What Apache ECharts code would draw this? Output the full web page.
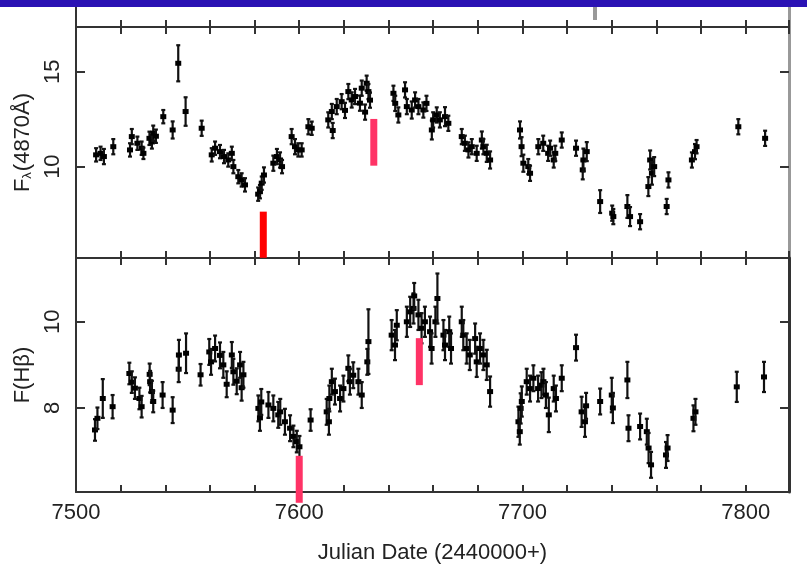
<!DOCTYPE html>
<html>
<head>
<meta charset="utf-8">
<script src="https://cdn.jsdelivr.net/npm/echarts@6/dist/echarts.min.js"></script>
<style>
  html, body { margin: 0; padding: 0; background: #fff; }
  #chart { width: 807px; height: 573px; }
</style>
</head>
<body>
<div id="chart"></div>
<script>
// continuum flux F_lambda(4870A), top panel
var topDates = [7509, 7511, 7512.5, 7516.7, 7524.2, 7525, 7527.5, 7529.4, 7530.2, 7532.9, 7534, 7534.6, 7535.8,
  7539.1, 7543.3, 7545.8, 7549.1, 7556.3, 7560.8, 7562.3, 7564.5, 7566.3, 7568.2, 7569.8, 7570.5, 7572.7, 7574.2,
  7575.7, 7581.6, 7582.4, 7583.2, 7584.2, 7588.4, 7590, 7591.4, 7592.3, 7596.6, 7598.1, 7599.6, 7601.1, 7604.1,
  7605.6, 7613, 7614.6, 7615, 7616.8, 7619, 7620.5, 7622, 7623.5, 7625, 7627.2, 7628, 7629.5, 7630.2, 7631, 7631.7,
  7642.2, 7643, 7644.4, 7647.4, 7648.2, 7650.4, 7651.9, 7653.4, 7655.6, 7657, 7659.4, 7660, 7661.6, 7663, 7665.3,
  7666.8, 7672.8, 7674.2, 7675.8, 7677.3, 7679.5, 7681.8, 7682.5, 7684, 7685.5, 7698.9, 7699.6, 7700.4, 7702.6,
  7703.4, 7707.1, 7709.3, 7711.5, 7712.4, 7714, 7714.7, 7717.6, 7724, 7727, 7727.3, 7728.8, 7734.8, 7740.2, 7740.7,
  7747, 7748.2, 7752.7, 7756.4, 7757.2, 7758, 7759, 7764.6, 7765.4, 7775.9, 7777.3, 7778, 7796.7, 7808.7];
var topFlux = [10.62, 10.70, 10.53, 11.05, 10.88, 11.58, 11.23, 10.97, 10.70, 11.49, 11.3, 11.76, 11.6,
  12.63, 11.93, 15.44, 12.9, 12.02, 10.62, 10.97, 10.79, 10.53, 10.35, 10.7, 10.0, 9.47, 9.3,
  9.04, 8.55, 8.68, 9.13, 9.56, 10.18, 10.53, 10.35, 10.0, 11.58, 11.05, 10.88, 10.88, 12.1,
  12.02, 12.46, 12.9, 11.9, 13.16, 13.42, 12.96, 13.95, 13.51, 13.69, 13.34, 14.13, 12.87, 14.39, 13.95, 13.5,
  13.86, 13.33, 12.72, 14.04, 13.16, 12.98, 13.51, 13.16, 12.98, 13.33, 11.93, 12.46, 12.72, 12.46, 12.63,
  12.28, 11.58, 11.23, 10.88, 11.05, 10.7, 11.4, 11.05, 10.7, 10.35, 11.93, 11.05, 10.18, 10.0,
  9.65, 11.05, 11.23, 10.7, 10.97, 10.35, 10.7, 11.4, 10.97, 9.83, 10.35, 10.79, 8.16, 7.55, 7.37,
  7.9, 7.37, 7.1, 8.95, 10.35, 9.65, 10.0, 7.9, 9.3, 10.35, 10.79, 11.05, 12.1, 11.49];
var topErr = [0.35, 0.35, 0.4, 0.4, 0.35, 0.4, 0.35, 0.35, 0.3, 0.35, 0.35, 0.4, 0.35,
  0.35, 0.45, 0.95, 0.75, 0.4, 0.35, 0.35, 0.35, 0.35, 0.35, 0.35, 0.35, 0.35, 0.35,
  0.35, 0.35, 0.35, 0.35, 0.4, 0.4, 0.4, 0.4, 0.35, 0.4, 0.4, 0.35, 0.35, 0.4,
  0.35, 0.4, 0.4, 0.4, 0.4, 0.4, 0.4, 0.4, 0.4, 0.4, 0.4, 0.4, 0.4, 0.4, 0.4, 0.4,
  0.4, 0.4, 0.4, 0.4, 0.4, 0.45, 0.4, 0.4, 0.4, 0.4, 0.5, 0.4, 0.4, 0.4, 0.5,
  0.4, 0.4, 0.4, 0.4, 0.4, 0.4, 0.45, 0.4, 0.45, 0.45, 0.45, 0.5, 0.45, 0.4,
  0.4, 0.4, 0.4, 0.4, 0.4, 0.4, 0.4, 0.4, 0.4, 0.5, 0.6, 0.5, 0.6, 0.4, 0.4,
  0.6, 0.5, 0.4, 0.5, 0.5, 0.6, 0.5, 0.4, 0.4, 0.4, 0.4, 0.35, 0.4, 0.4];

// line flux F(H-beta), bottom panel
var botDates = [7508.5, 7509.6, 7512, 7516.4, 7523.9, 7525, 7526.4, 7528.4, 7529.4, 7533, 7533.2, 7534, 7534.6,
  7538.8, 7543.3, 7546, 7546.1, 7549.3, 7555.8, 7559.7, 7560.5, 7562.3, 7564.5, 7566, 7567.5, 7569.8, 7570.5,
  7572, 7573.5, 7574.2, 7575, 7581.7, 7582.4, 7583, 7586.2, 7588.4, 7590.6, 7591.5, 7593.6, 7595.9, 7597.4,
  7598.9, 7600.1, 7605.1, 7612.3, 7613.3, 7613.5, 7614.6, 7616, 7618.3, 7619.8, 7622, 7622.7, 7624.2, 7626.5,
  7628, 7630.5, 7631, 7641.4, 7642.9, 7643.7, 7648.2, 7649.7, 7651.2, 7651.5, 7653.4, 7654.8, 7656.3, 7658.6,
  7659.3, 7661, 7661.9, 7664.6, 7665.3, 7667.2, 7668, 7672.8, 7673.5, 7675, 7676.4, 7678.8, 7679.5, 7681,
  7682.5, 7684, 7685.5, 7698.2, 7698.8, 7699.2, 7699.7, 7701.9, 7703.4, 7704.9, 7707, 7708.5, 7709.4, 7710.5,
  7711.8, 7714, 7715, 7717.6, 7724, 7726.5, 7728, 7728.5, 7734.8, 7740, 7740.5, 7747, 7747.5, 7752.7, 7755.7,
  7756.5, 7757.6, 7764.3, 7765, 7776.6, 7777.5, 7796, 7808.2];
var botFlux = [7.49, 7.76, 8.22, 8.03, 8.8, 8.6, 8.46, 8.22, 8.03, 8.78, 8.61, 8.38, 8.15,
  8.3, 7.95, 8.9, 9.23, 9.27, 8.77, 9.3, 9.07, 9.38, 9.22, 9.0, 8.55, 9.23, 8.84,
  8.62, 9.0, 8.47, 8.77, 7.99, 7.77, 8.14, 8.07, 7.99, 7.84, 7.91, 7.68, 7.53, 7.34,
  7.22, 7.1, 7.72, 7.91, 7.68, 8.22, 8.61, 8.38, 8.22, 8.45, 8.92, 8.61, 8.76, 8.61,
  8.3, 9.07, 9.54, 9.69, 9.46, 9.92, 10.0, 10.23, 10.31, 10.6, 10.16, 9.85, 10.0, 9.77,
  9.38, 10.0, 10.54, 9.69, 9.46, 9.77, 9.38, 10.0, 9.69, 9.38, 9.23, 9.61, 9.07, 9.38,
  9.23, 9.0, 8.38, 7.68, 7.45, 7.99, 8.15, 8.61, 8.45, 8.69, 8.45, 8.53, 8.61, 8.3,
  7.84, 8.45, 8.22, 8.69, 9.4, 7.91, 7.68, 8.05, 8.15, 8.3, 8.0, 8.65, 7.53, 7.57, 7.45,
  7.07, 6.68, 6.91, 7.07, 7.76, 7.91, 8.49, 8.72];
var botErr = [0.25, 0.25, 0.45, 0.27, 0.25, 0.25, 0.25, 0.25, 0.25, 0.25, 0.25, 0.25, 0.25,
  0.3, 0.3, 0.3, 0.35, 0.46, 0.25, 0.3, 0.3, 0.3, 0.3, 0.3, 0.3, 0.3, 0.3,
  0.3, 0.3, 0.3, 0.3, 0.3, 0.3, 0.3, 0.3, 0.3, 0.3, 0.3, 0.3, 0.3, 0.25,
  0.25, 0.25, 0.25, 0.3, 0.3, 0.3, 0.3, 0.3, 0.3, 0.3, 0.3, 0.3, 0.3, 0.3,
  0.3, 0.3, 0.75, 0.35, 0.35, 0.35, 0.35, 0.35, 0.35, 0.3, 0.35, 0.35, 0.35, 0.35,
  0.35, 0.35, 0.58, 0.35, 0.35, 0.35, 0.35, 0.35, 0.35, 0.35, 0.35, 0.35, 0.35, 0.35,
  0.35, 0.35, 0.35, 0.35, 0.3, 0.35, 0.35, 0.3, 0.3, 0.3, 0.3, 0.3, 0.3, 0.3,
  0.4, 0.3, 0.3, 0.3, 0.3, 0.35, 0.35, 0.3, 0.3, 0.4, 0.35, 0.42, 0.3, 0.3, 0.3,
  0.35, 0.3, 0.3, 0.3, 0.3, 0.3, 0.35, 0.35];

// vertical marker bars (date, lower, upper)
var topMarkDates = [7583.9, 7633.4];
var topMarkLo = [5.2, 10.05];
var topMarkHi = [7.63, 12.51];
var botMarkDates = [7600.0, 7653.8];
var botMarkLo = [5.8, 8.53];
var botMarkHi = [6.89, 9.62];

// bit of the panel above, cut off at the top
var stripDates = [7732.5];
var stripLo = [0.35];
var stripHi = [1.0];

var topTicks = [10, 15];
var botTicks = [8, 10];
var dateLabels = [7500, 7600, 7700, 7800];

var FONT = '"Liberation Sans", Arial, sans-serif';
var INK = '#222';
var markColors = { top: ['#ff0000', '#ff3366'], bot: ['#ff3366', '#ff3366'] };

var mychart = echarts.init(document.getElementById('chart'));

function xAx(grid, pos, showLabels) {
  return {
    type: 'value', gridIndex: grid, position: pos,
    min: 7500, max: 7819.4, interval: 20,
    axisLine: { show: true, onZero: false, lineStyle: { color: '#333', width: 2 } },
    axisTick: { show: true, inside: true, length: 7, lineStyle: { color: '#333', width: 2 } },
    axisLabel: showLabels ? {
      show: true, customValues: dateLabels, margin: 10,
      formatter: function (v) { return String(v); },
      fontFamily: FONT, fontSize: 22, color: INK
    } : { show: false },
    splitLine: { show: false }
  };
}

function yAx(grid, pos, min, max, ticks, lineColor, name, withLabels) {
  var ax = {
    type: 'value', gridIndex: grid, position: pos, min: min, max: max,
    axisLine: { show: true, onZero: false, lineStyle: { color: lineColor, width: pos === 'right' ? 3 : 2 } },
    axisTick: ticks ? { show: true, inside: true, length: 9, customValues: ticks, lineStyle: { color: '#333', width: 2 } } : { show: false },
    axisLabel: withLabels ? {
      show: true, customValues: ticks, rotate: 90, margin: 12,
      fontFamily: FONT, fontSize: 22, color: INK
    } : { show: false },
    splitLine: { show: false }
  };
  if (name) {
    ax.name = name;
    ax.nameLocation = 'middle';
    ax.nameRotate = 90;
    ax.nameGap = 38;
    ax.nameTextStyle = {
      fontFamily: FONT, fontSize: 22, color: INK,
      rich: {
        n: { fontFamily: FONT, fontSize: 22, color: INK },
        s: { fontFamily: FONT, fontSize: 13, color: INK, verticalAlign: 'bottom', padding: [9, 1, 0, 0] }
      }
    };
  }
  return ax;
}

function errItem(params, api) {
  var x = api.value(0), y = api.value(1), e = api.value(2);
  var c = api.coord([x, y]);
  var hi = api.coord([x, y + e]);
  var lo = api.coord([x, y - e]);
  var st = { stroke: '#111', lineWidth: 2.2 };
  return {
    type: 'group',
    children: [
      { type: 'line', shape: { x1: c[0], y1: hi[1], x2: c[0], y2: lo[1] }, style: st },
      { type: 'line', shape: { x1: c[0] - 2, y1: hi[1], x2: c[0] + 2, y2: hi[1] }, style: st },
      { type: 'line', shape: { x1: c[0] - 2, y1: lo[1], x2: c[0] + 2, y2: lo[1] }, style: st },
      { type: 'rect', shape: { x: c[0] - 3, y: c[1] - 2.5, width: 6, height: 5 }, style: { fill: '#000' } }
    ]
  };
}

function barItem(colors, width) {
  return function (params, api) {
    var x = api.value(0);
    var top = api.coord([x, api.value(2)]);
    var bot = api.coord([x, api.value(1)]);
    return {
      type: 'rect',
      shape: { x: top[0] - width / 2, y: top[1], width: width, height: bot[1] - top[1] },
      style: { fill: colors[params.dataIndex] }
    };
  };
}

function zip3(a, b, c) {
  return a.map(function (v, i) { return [v, b[i], c[i]]; });
}

mychart.setOption({
  animation: false,
  backgroundColor: '#fff',
  graphic: [{
    type: 'rect', left: 0, top: 0, shape: { width: 807, height: 7 },
    style: { fill: '#2a12b4' }, z: 10
  }],
  grid: [
    { left: 76, right: 18, top: 7, height: 20 },
    { left: 76, right: 18, top: 27, height: 231 },
    { left: 76, right: 18, top: 258, height: 234 }
  ],
  xAxis: [
    xAx(0, 'bottom', false),
    xAx(1, 'bottom', false),
    xAx(1, 'top', false),
    xAx(2, 'top', false),
    Object.assign(xAx(2, 'bottom', true), {
      name: 'Julian Date (2440000+)', nameLocation: 'middle', nameGap: 50,
      nameTextStyle: { fontFamily: FONT, fontSize: 22, color: INK }
    })
  ],
  yAxis: [
    yAx(0, 'left', 0, 1, null, '#333', null, false),
    yAx(0, 'right', 0, 1, null, '#999', null, false),
    yAx(1, 'left', 5.19, 17.35, topTicks, '#333', '{n|F}{s|λ}{n|(4870Å)}', true),
    yAx(1, 'right', 5.19, 17.35, topTicks, '#999', null, false),
    yAx(2, 'left', 6.05, 11.48, botTicks, '#333', 'F(Hβ)', true),
    yAx(2, 'right', 6.05, 11.48, botTicks, '#333', null, false)
  ],
  series: [
    {
      name: 'strip', type: 'custom', xAxisIndex: 0, yAxisIndex: 0,
      renderItem: barItem(['#999'], 4), encode: { x: 0, y: [1, 2] },
      data: zip3(stripDates, stripLo, stripHi)
    },
    {
      name: 'Flambda', type: 'custom', xAxisIndex: 1, yAxisIndex: 2,
      renderItem: errItem, encode: { x: 0, y: 1 },
      data: zip3(topDates, topFlux, topErr)
    },
    {
      name: 'Hbeta', type: 'custom', xAxisIndex: 4, yAxisIndex: 4,
      renderItem: errItem, encode: { x: 0, y: 1 },
      data: zip3(botDates, botFlux, botErr)
    },
    {
      name: 'topMarks', type: 'custom', xAxisIndex: 1, yAxisIndex: 2, z: 5,
      renderItem: barItem(markColors.top, 7), encode: { x: 0, y: [1, 2] },
      data: zip3(topMarkDates, topMarkLo, topMarkHi)
    },
    {
      name: 'botMarks', type: 'custom', xAxisIndex: 4, yAxisIndex: 4, z: 5, clip: false,
      renderItem: barItem(markColors.bot, 7), encode: { x: 0, y: [1, 2] },
      data: zip3(botMarkDates, botMarkLo, botMarkHi)
    }
  ]
});
</script>
</body>
</html>
